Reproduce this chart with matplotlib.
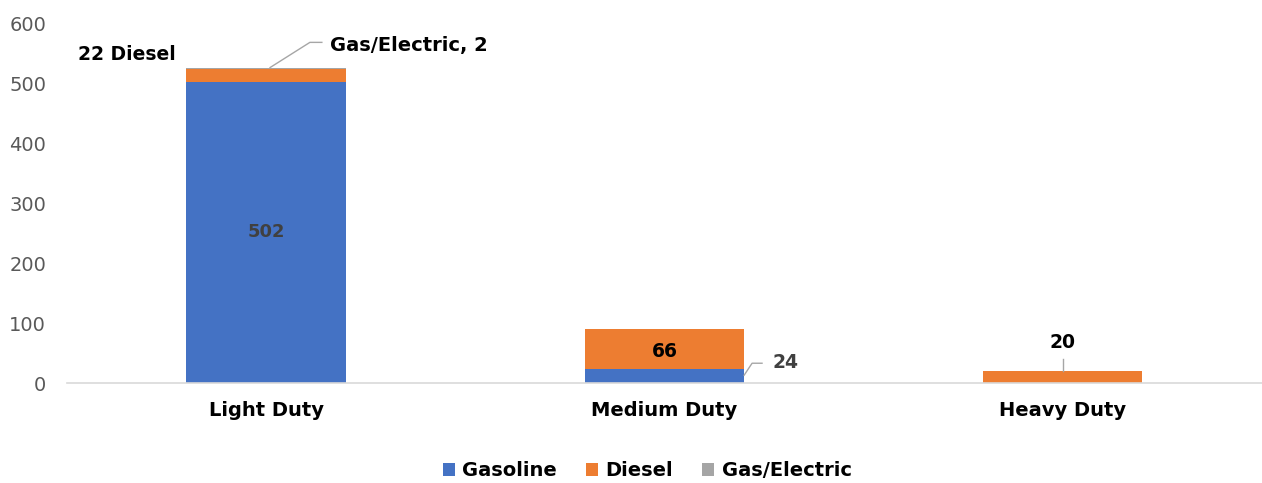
import numpy as np
import matplotlib
matplotlib.use('Agg')
import matplotlib.pyplot as plt

# Данные
categories = ['Light Duty', 'Medium Duty', 'Heavy Duty']
gasoline = [502, 24, 0]
diesel = [22, 66, 20]
gas_electric = [2, 0, 0]

BLUE = '#4472C4'
ORANGE = '#ED7D31'
GRAY = '#A5A5A5'
LEADER = '#A6A6A6'

plt.rcParams['font.family'] = ['DejaVu Sans']

fig = plt.figure(figsize=(12.62, 4.83), dpi=100)
ax = fig.add_axes([0.053, 0.207, 0.947, 0.745])

x = np.arange(len(categories))
w = 0.4
g = np.array(gasoline)
d = np.array(diesel)
e = np.array(gas_electric)

ax.bar(x, g, w, color=BLUE, label='Gasoline', zorder=2)
ax.bar(x, d, w, bottom=g, color=ORANGE, label='Diesel', zorder=2)
ax.bar(x, e, w, bottom=g + d, color=GRAY, label='Gas/Electric', zorder=2)

ax.set_xlim(-0.5, 2.5)
ax.set_ylim(0, 600)
ax.set_yticks(range(0, 601, 100))
ax.set_xticks(x)
ax.set_xticklabels(categories, fontsize=14, fontweight='bold', color='black')
ax.tick_params(axis='y', labelsize=14, labelcolor='#595959', length=0, pad=15)
ax.tick_params(axis='x', length=0, pad=13)
for s in ['top', 'right', 'left']:
    ax.spines[s].set_visible(False)
ax.spines['bottom'].set_color('#D9D9D9')
ax.spines['bottom'].set_linewidth(1.2)

# Подписи
ax.text(x[0], g[0] / 2, str(gasoline[0]), ha='center', va='center',
        fontsize=13, fontweight='bold', color='#404040')
ax.text(x[0] - 0.35, g[0] + d[0] + 24, '%d Diesel' % diesel[0], ha='center', va='center',
        fontsize=13.5, fontweight='bold', color='black')
top0 = g[0] + d[0] + e[0]
ax.plot([x[0] + 0.01, x[0] + 0.11, x[0] + 0.14], [top0, top0 + 42, top0 + 42],
        color=LEADER, lw=1, zorder=3)
ax.text(x[0] + 0.16, top0 + 37, 'Gas/Electric, %d' % gas_electric[0], ha='left', va='center',
        fontsize=14, fontweight='bold', color='black')

ax.text(x[1], g[1] + d[1] / 2 - 5, str(diesel[1]), ha='center', va='center',
        fontsize=13.5, fontweight='bold', color='black')
ax.plot([x[1] + w / 2, x[1] + 0.22, x[1] + 0.245], [g[1] / 2 + 1, g[1] + 9, g[1] + 9],
        color=LEADER, lw=1, zorder=3)
ax.text(x[1] + 0.27, g[1] + 11, str(gasoline[1]), ha='left', va='center',
        fontsize=13.5, fontweight='bold', color='#404040')

ax.plot([x[2], x[2]], [d[2], d[2] + 20], color=LEADER, lw=1, zorder=3)
ax.text(x[2], d[2] + 48, str(diesel[2]), ha='center', va='center',
        fontsize=13.5, fontweight='bold', color='black')

fig.legend(loc='center', bbox_to_anchor=(0.513, 0.025), ncol=3, frameon=False,
           prop={'size': 14, 'weight': 'bold'}, handlelength=0.6, handleheight=0.6,
           handletextpad=0.4, columnspacing=1.5)

fig.savefig('out.png', dpi=100)
